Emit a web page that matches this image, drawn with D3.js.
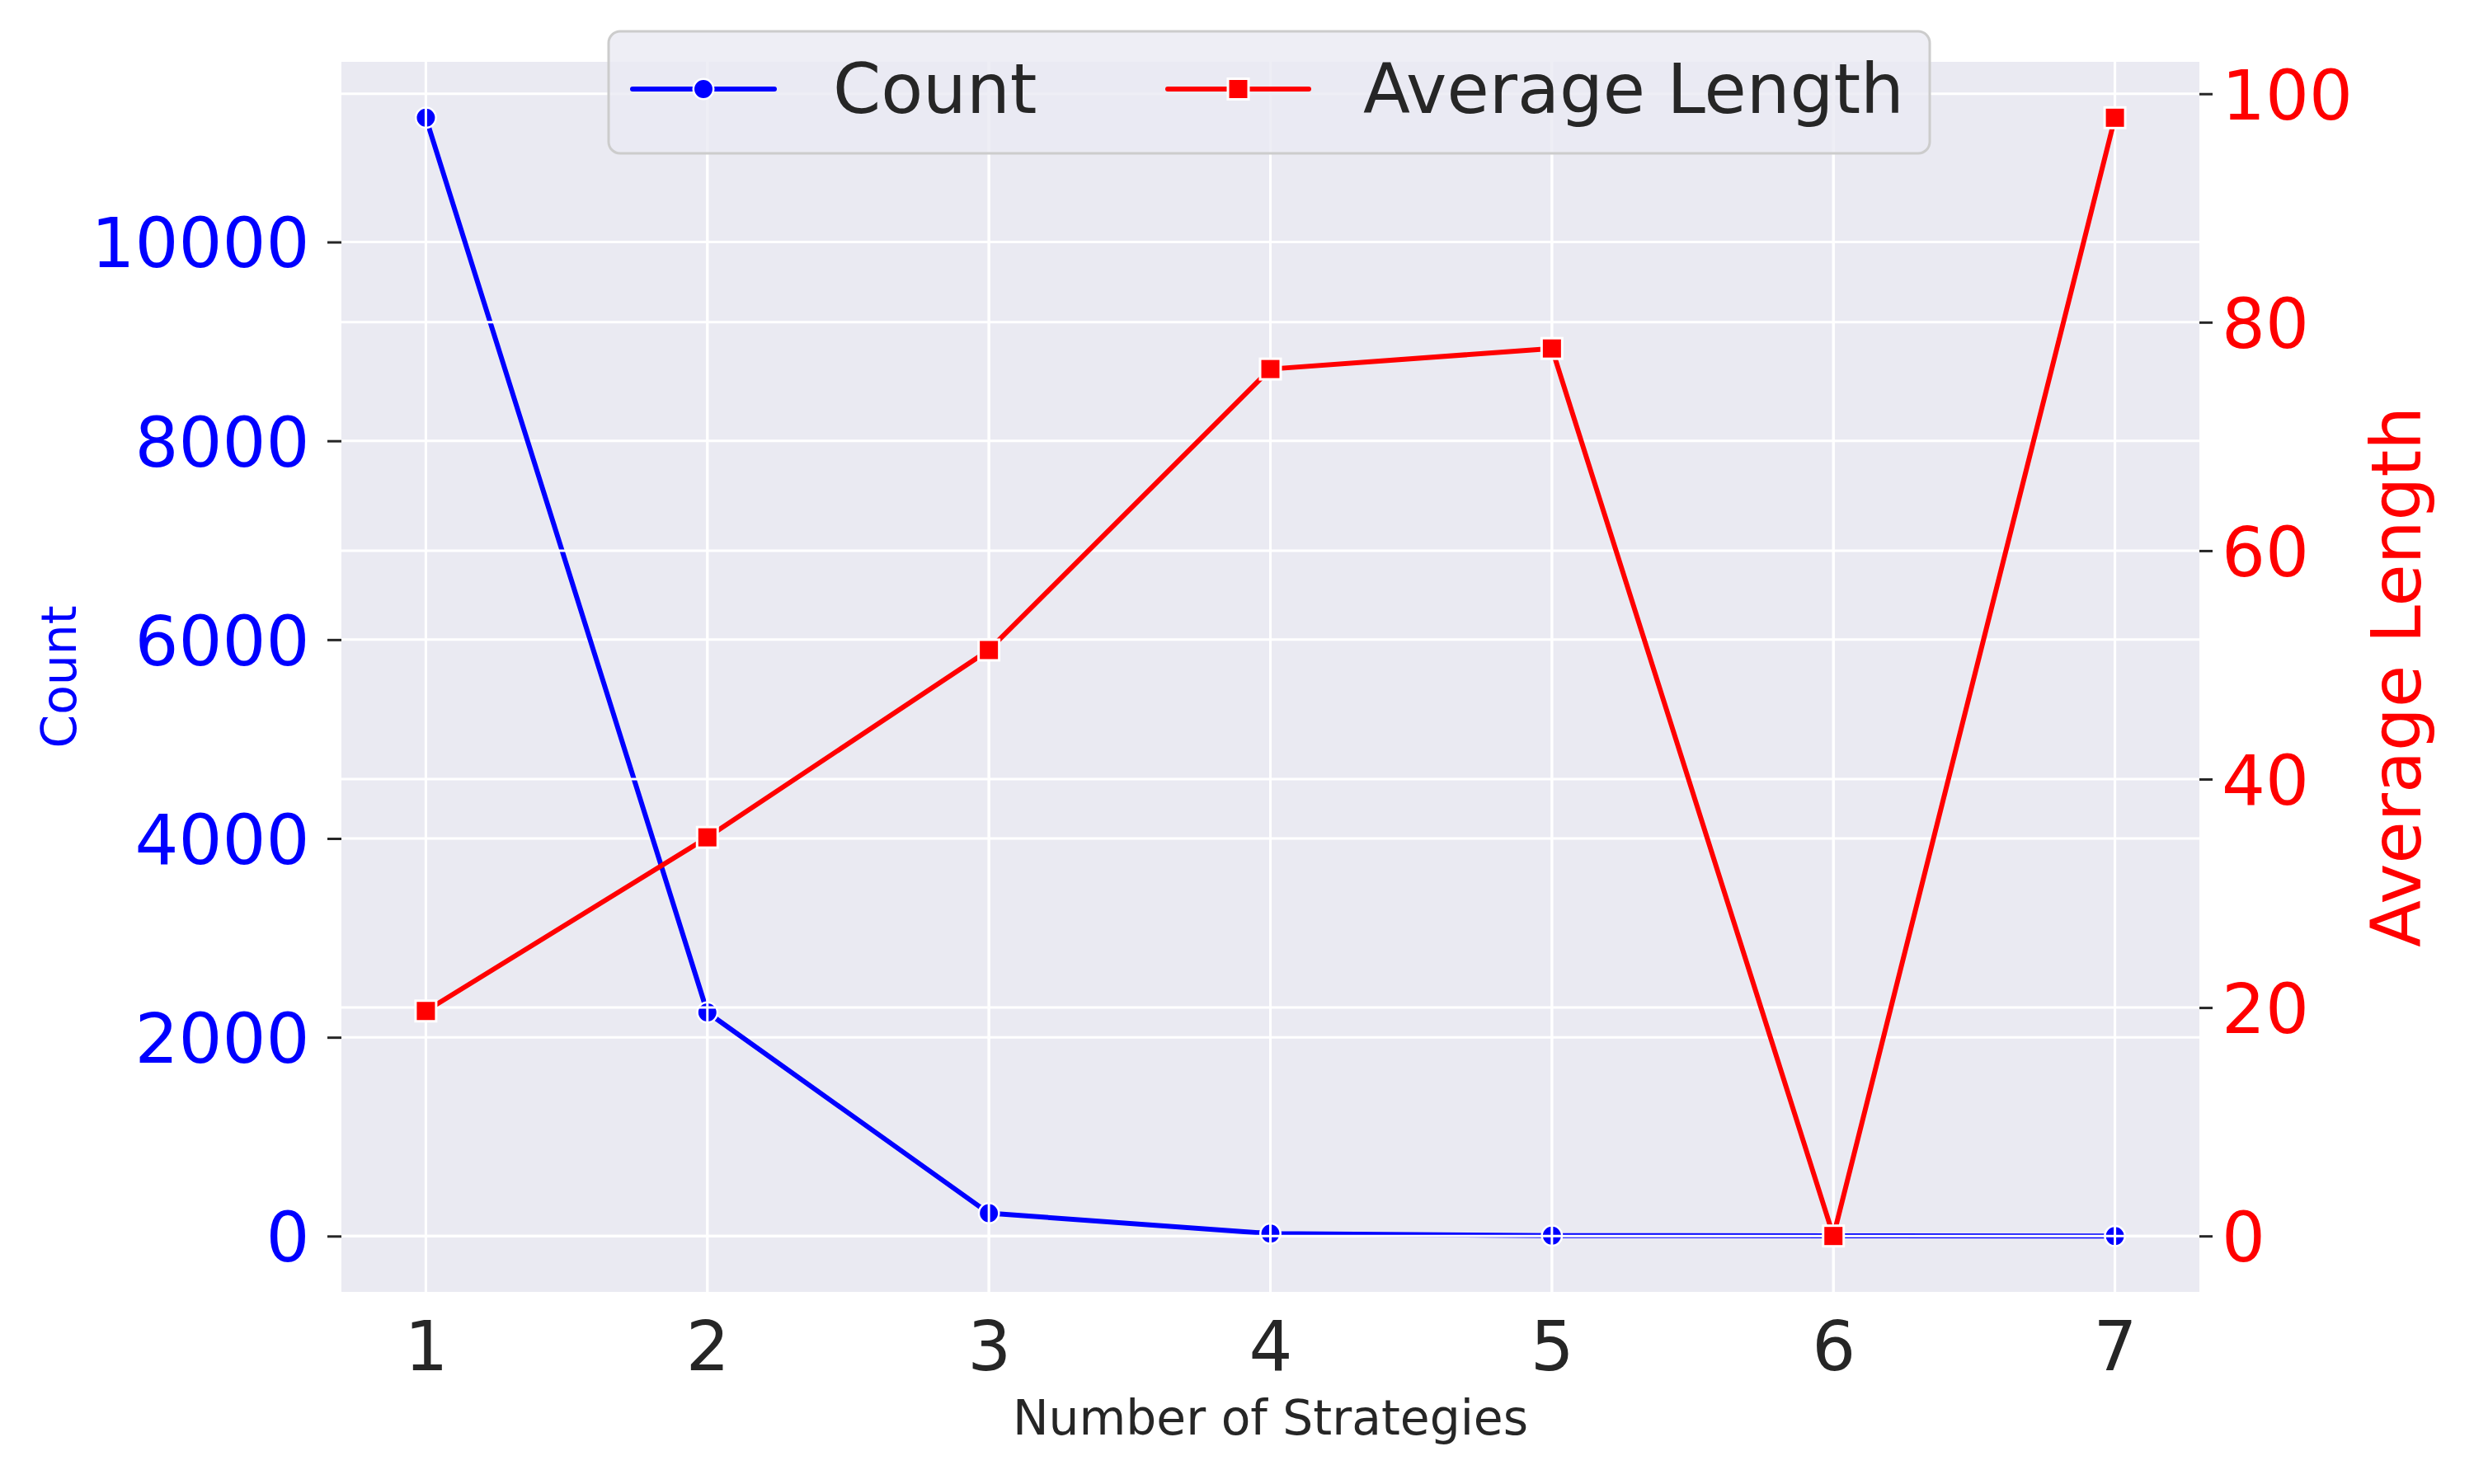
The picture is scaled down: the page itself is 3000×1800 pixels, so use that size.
<!DOCTYPE html>
<html>
<head>
<meta charset="utf-8">
<script src="https://cdn.jsdelivr.net/npm/d3@7"></script>
<style>
  html, body { margin: 0; padding: 0; background: #ffffff; }
  svg { display: block; }
  text { font-family: "DejaVu Sans", sans-serif; }
</style>
</head>
<body>
<script>
// ---- Data ----
const strategies = [1, 2, 3, 4, 5, 6, 7];
const counts = [11250, 2250, 230, 25, 5, 2, 1];
const avgLength = [19.7, 34.9, 51.3, 75.9, 77.7, 0, 97.9];
const countTicks = [0, 2000, 4000, 6000, 8000, 10000];
const lengthTicks = [0, 20, 40, 60, 80, 100];
const xTicks = [1, 2, 3, 4, 5, 6, 7];
const seriesNames = ["Count", "Average Length"];
const xTitle = "Number of Strategies";

// ---- Layout ----
const W = 3000, H = 1800;
const plot = { left: 414, right: 2667, top: 75, bottom: 1567 };
const BIG = 83.3, SMALL = 58.3;
const BLUE = "#0000ff", RED = "#ff0000", DARK = "#262626", BG = "#eaeaf2";
const LW = 6;

function padded(vals) {
  const [lo, hi] = d3.extent(vals);
  const m = (hi - lo) * 0.05;
  return [lo - m, hi + m];
}

const x = d3.scaleLinear().domain(padded(strategies)).range([plot.left, plot.right]);
const yL = d3.scaleLinear().domain(padded(counts)).range([plot.bottom, plot.top]);
const yR = d3.scaleLinear().domain(padded(avgLength)).range([plot.bottom, plot.top]);

const svg = d3.select("body").append("svg").attr("width", W).attr("height", H);

// background
svg.append("rect").attr("x", plot.left).attr("y", plot.top)
  .attr("width", plot.right - plot.left).attr("height", plot.bottom - plot.top)
  .attr("fill", BG);

function grid(yScale, ticks) {
  const g = svg.append("g");
  g.selectAll(".h").data(ticks).join("line")
    .attr("x1", plot.left).attr("x2", plot.right)
    .attr("y1", d => yScale(d)).attr("y2", d => yScale(d))
    .attr("stroke", "#ffffff").attr("stroke-width", 3);
  g.selectAll(".v").data(xTicks).join("line")
    .attr("y1", plot.top).attr("y2", plot.bottom)
    .attr("x1", d => x(d)).attr("x2", d => x(d))
    .attr("stroke", "#ffffff").attr("stroke-width", 3);
}

// ax1 grid + count series
grid(yL, countTicks);
const countData = strategies.map((s, i) => ({ s, v: counts[i] }));
svg.append("path").datum(countData)
  .attr("fill", "none").attr("stroke", BLUE).attr("stroke-width", LW)
  .attr("stroke-linejoin", "round").attr("stroke-linecap", "round")
  .attr("d", d3.line().x(d => x(d.s)).y(d => yL(d.v)));
svg.append("g").selectAll("circle").data(countData).join("circle")
  .attr("cx", d => x(d.s)).attr("cy", d => yL(d.v)).attr("r", 12.2)
  .attr("fill", BLUE).attr("stroke", "#ffffff").attr("stroke-width", 2.5);

// ax2 grid (drawn over ax1 lines) + length series
grid(yR, lengthTicks);
const lenData = strategies.map((s, i) => ({ s, v: avgLength[i] }));
svg.append("path").datum(lenData)
  .attr("fill", "none").attr("stroke", RED).attr("stroke-width", LW)
  .attr("stroke-linejoin", "round").attr("stroke-linecap", "round")
  .attr("d", d3.line().x(d => x(d.s)).y(d => yR(d.v)));
svg.append("g").selectAll("rect").data(lenData).join("rect")
  .attr("x", d => x(d.s) - 12.5).attr("y", d => yR(d.v) - 12.5)
  .attr("width", 25).attr("height", 25)
  .attr("fill", RED).attr("stroke", "#ffffff").attr("stroke-width", 3);

// ---- Axes ----
const axL = svg.append("g").attr("transform", `translate(${plot.left},0)`)
  .call(d3.axisLeft(yL).tickValues(countTicks).tickFormat(d3.format("d"))
    .tickSize(17).tickPadding(21.5));
const axR = svg.append("g").attr("transform", `translate(${plot.right},0)`)
  .call(d3.axisRight(yR).tickValues(lengthTicks).tickFormat(d3.format("d"))
    .tickSize(16).tickPadding(11));
const axB = svg.append("g").attr("transform", `translate(0,${plot.bottom})`)
  .call(d3.axisBottom(x).tickValues(xTicks).tickFormat(d3.format("d"))
    .tickSize(0).tickPadding(36));

[axL, axR, axB].forEach(a => {
  a.select(".domain").remove();
  a.selectAll(".tick line").attr("stroke", DARK).attr("stroke-width", 3);
  a.selectAll(".tick text").attr("font-size", BIG).attr("font-family", "DejaVu Sans");
});
axL.selectAll(".tick text").attr("fill", BLUE).attr("dy", "0.365em");
axR.selectAll(".tick text").attr("fill", RED).attr("dy", "0.365em");
axB.selectAll(".tick text").attr("fill", DARK);

// axis titles
svg.append("text").attr("transform", `translate(92,821) rotate(-90)`)
  .attr("text-anchor", "middle").attr("font-size", SMALL).attr("fill", BLUE)
  .text(seriesNames[0]);
svg.append("text").attr("transform", `translate(2935,821) rotate(-90)`)
  .attr("text-anchor", "middle").attr("font-size", BIG).attr("fill", RED)
  .text(seriesNames[1]);
svg.append("text").attr("x", (plot.left + plot.right) / 2).attr("y", 1740)
  .attr("text-anchor", "middle").attr("font-size", SMALL).attr("fill", DARK)
  .text(xTitle);

// ---- Legend ----
const lg = svg.append("g");
lg.append("rect").attr("x", 738).attr("y", 38).attr("width", 1602).attr("height", 148)
  .attr("rx", 14).attr("ry", 14)
  .attr("fill", BG).attr("fill-opacity", 0.8)
  .attr("stroke", "#cccccc").attr("stroke-width", 3);
const legendItems = [
  { name: seriesNames[0], color: BLUE, shape: "circle", x0: 767, x1: 939, tx: 1010 },
  { name: seriesNames[1], color: RED, shape: "square", x0: 1416, x1: 1587, tx: 1653 }
];
legendItems.forEach(it => {
  const ly = 108;
  lg.append("line").attr("x1", it.x0).attr("x2", it.x1).attr("y1", ly).attr("y2", ly)
    .attr("stroke", it.color).attr("stroke-width", LW).attr("stroke-linecap", "round");
  const mx = (it.x0 + it.x1) / 2;
  if (it.shape === "circle") {
    lg.append("circle").attr("cx", mx).attr("cy", ly).attr("r", 12.2)
      .attr("fill", it.color).attr("stroke", "#fff").attr("stroke-width", 2.5);
  } else {
    lg.append("rect").attr("x", mx - 12.5).attr("y", ly - 12.5).attr("width", 25).attr("height", 25)
      .attr("fill", it.color).attr("stroke", "#fff").attr("stroke-width", 3);
  }
  lg.append("text").attr("x", it.tx).attr("y", 137)
    .attr("font-size", BIG).attr("fill", DARK).text(it.name);
});
</script>
</body>
</html>
